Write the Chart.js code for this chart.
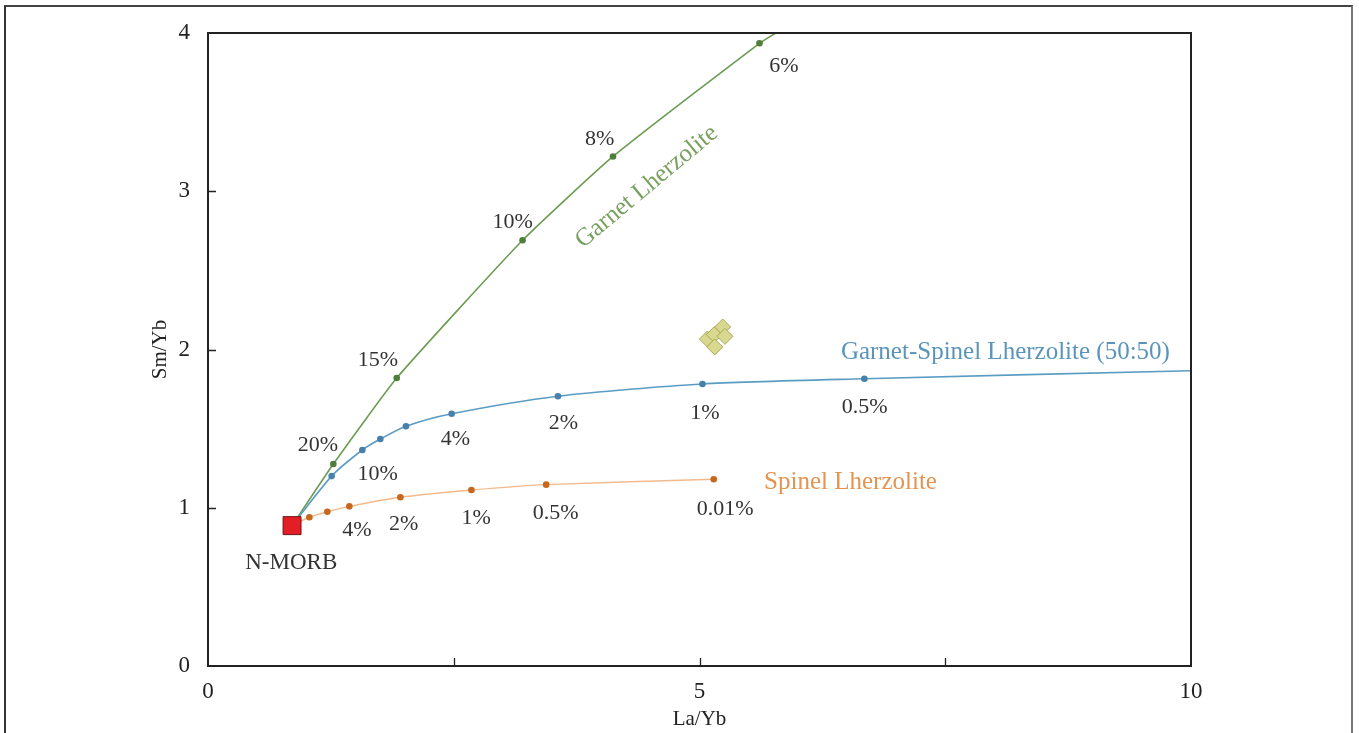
<!DOCTYPE html>
<html>
<head>
<meta charset="utf-8">
<script src="https://cdn.jsdelivr.net/npm/chart.js@4.4.1/dist/chart.umd.min.js"></script>
<style>
  html, body { margin: 0; padding: 0; background: #fff; overflow: hidden; }
  #wrap { position: relative; width: 1359px; height: 733px; }
  #frame { position: absolute; left: 4px; top: 5px; width: 1345px; height: 740px;
           border-left: 2px solid #333; border-top: 2px solid #444; border-right: 2px solid #777; }
  canvas { position: absolute; left: 0; top: 0; }
</style>
</head>
<body>
<div id="wrap">
  <div id="frame"></div>
  <canvas id="c" width="1359" height="733"></canvas>
</div>
<script>
// ---- data ----
const nmorbX = [0.855];
const nmorbY = [0.887];

// Garnet Lherzolite melting curve (starts at N-MORB, ends where it leaves the frame)
const garnetX = [0.855, 1.275, 1.92, 3.20, 4.12, 5.61, 5.775];
const garnetY = [0.887, 1.276, 1.82, 2.69, 3.22, 3.935, 4.0];
const garnetMarked = [false, true, true, true, true, true, false];

// Garnet-Spinel Lherzolite (50:50) melting curve
const gsX = [0.855, 1.258, 1.57, 1.753, 2.014, 2.479, 3.56, 5.03, 6.677, 10.0];
const gsY = [0.887, 1.200, 1.365, 1.434, 1.515, 1.594, 1.705, 1.782, 1.815, 1.866];
const gsMarked = [false, true, true, true, true, true, true, true, true, false];

// Spinel Lherzolite melting curve
const spX = [0.855, 1.031, 1.214, 1.438, 1.957, 2.68, 3.44, 5.145];
const spY = [0.887, 0.940, 0.975, 1.009, 1.066, 1.112, 1.146, 1.180];
const spMarked = [false, true, true, true, true, true, true, true];

// Sample points (diamonds)
const sampleX = [5.08, 5.15, 5.236, 5.259, 5.155];
const sampleY = [2.066, 2.094, 2.142, 2.083, 2.016];

// Axis ticks
const xTickValues = [0, 2.5, 5, 7.5, 10];
const xTickLabels = ['0', '', '5', '', '10'];
const yTickValues = [0, 1, 2, 3, 4];
const yTickLabels = ['0', '1', '2', '3', '4'];

// Melting-degree labels
const garnetLabels = ['20%', '15%', '10%', '8%', '6%'];
const gsLabels = ['10%', '4%', '2%', '1%', '0.5%'];
const spLabels = ['4%', '2%', '1%', '0.5%', '0.01%'];

// ---- build ----
const toPts = (xs, ys) => xs.map((x, i) => ({ x: x, y: ys[i] }));
const SERIF = '"Liberation Serif", "DejaVu Serif", serif';

// label anchor positions (data coords) — text placement only
const annotations = [
  { t: garnetLabels[0], x: 1.118, y: 1.394, c: '#333', s: 22 },
  { t: garnetLabels[1], x: 1.729, y: 1.934, c: '#333', s: 22 },
  { t: garnetLabels[2], x: 3.100, y: 2.802, c: '#333', s: 22 },
  { t: garnetLabels[3], x: 3.984, y: 3.327, c: '#333', s: 22 },
  { t: garnetLabels[4], x: 5.858, y: 3.790, c: '#333', s: 22 },
  { t: gsLabels[0], x: 1.725, y: 1.215, c: '#333', s: 22 },
  { t: gsLabels[1], x: 2.518, y: 1.436, c: '#333', s: 22 },
  { t: gsLabels[2], x: 3.616, y: 1.537, c: '#333', s: 22 },
  { t: gsLabels[3], x: 5.056, y: 1.600, c: '#333', s: 22 },
  { t: gsLabels[4], x: 6.680, y: 1.638, c: '#333', s: 22 },
  { t: spLabels[0], x: 1.516, y: 0.859, c: '#333', s: 22 },
  { t: spLabels[1], x: 1.990, y: 0.897, c: '#333', s: 22 },
  { t: spLabels[2], x: 2.729, y: 0.935, c: '#333', s: 22 },
  { t: spLabels[3], x: 3.538, y: 0.967, c: '#333', s: 22 },
  { t: spLabels[4], x: 5.262, y: 0.992, c: '#333', s: 22 },
  { t: 'N-MORB', x: 0.847, y: 0.652, c: '#333', s: 23 },
  { t: 'Garnet Lherzolite', x: 4.463, y: 3.028, c: '#7aa061', s: 25, rot: -39.8 },
  { t: 'Garnet-Spinel Lherzolite (50:50)', x: 8.112, y: 1.984, c: '#5a94bb', s: 25 },
  { t: 'Spinel Lherzolite', x: 6.536, y: 1.160, c: '#e29450', s: 25 }
];

const decorPlugin = {
  id: 'decor',
  afterDatasetsDraw(chart) {
    const { ctx, chartArea: a, scales: { x, y } } = chart;
    ctx.save();
    ctx.strokeStyle = '#222';
    ctx.lineWidth = 2;
    ctx.strokeRect(a.left, a.top, a.right - a.left, a.bottom - a.top);
    ctx.lineWidth = 1.3;
    ctx.beginPath();
    xTickValues.forEach(v => {
      if (v <= x.min || v >= x.max) return;
      const px = Math.round(x.getPixelForValue(v)) + 0.5;
      ctx.moveTo(px, a.bottom); ctx.lineTo(px, a.bottom - 8);
    });
    yTickValues.forEach(v => {
      if (v <= y.min || v >= y.max) return;
      const py = Math.round(y.getPixelForValue(v)) + 0.5;
      ctx.moveTo(a.left, py); ctx.lineTo(a.left + 8, py);
    });
    ctx.stroke();
    ctx.textAlign = 'center';
    ctx.textBaseline = 'middle';
    annotations.forEach(an => {
      const px = x.getPixelForValue(an.x);
      const py = y.getPixelForValue(an.y);
      ctx.save();
      ctx.font = an.s + 'px ' + SERIF;
      ctx.fillStyle = an.c;
      ctx.translate(px, py);
      if (an.rot) ctx.rotate(an.rot * Math.PI / 180);
      ctx.fillText(an.t, 0, 0);
      ctx.restore();
    });
    ctx.restore();
  }
};

const chart = new Chart(document.getElementById('c'), {
  type: 'scatter',
  data: {
    datasets: [
      {
        label: 'N-MORB',
        data: toPts(nmorbX, nmorbY),
        pointStyle: 'rect',
        pointRadius: 12.7,
        backgroundColor: '#e41e26',
        borderColor: '#6e1616',
        borderWidth: 1,
        order: 0
      },
      {
        label: 'Samples',
        data: toPts(sampleX, sampleY),
        pointStyle: 'rectRot',
        pointRadius: 8,
        backgroundColor: '#d8d88e',
        borderColor: '#a9a95e',
        borderWidth: 1,
        order: 1
      },
      {
        label: 'Garnet Lherzolite',
        data: toPts(garnetX, garnetY),
        showLine: true,
        borderColor: '#6c9b52',
        borderWidth: 1.6,
        tension: 0.15,
        pointRadius: garnetMarked.map(m => m ? 3.3 : 0),
        pointBackgroundColor: '#4f7d3c',
        pointBorderWidth: 0,
        clip: 0,
        order: 4
      },
      {
        label: 'Garnet-Spinel Lherzolite (50:50)',
        data: toPts(gsX, gsY),
        showLine: true,
        borderColor: '#5b9cc4',
        borderWidth: 1.6,
        tension: 0.25,
        pointRadius: gsMarked.map(m => m ? 3.3 : 0),
        pointBackgroundColor: '#4681ab',
        pointBorderWidth: 0,
        order: 3
      },
      {
        label: 'Spinel Lherzolite',
        data: toPts(spX, spY),
        showLine: true,
        borderColor: '#f3b98a',
        borderWidth: 1.4,
        tension: 0.25,
        pointRadius: spMarked.map(m => m ? 3.3 : 0),
        pointBackgroundColor: '#c6661f',
        pointBorderWidth: 0,
        order: 2
      }
    ]
  },
  options: {
    responsive: false,
    animation: false,
    devicePixelRatio: 1,
    layout: { padding: { top: 33, right: 168, left: 0, bottom: 0 } },
    plugins: { legend: { display: false }, tooltip: { enabled: false } },
    scales: {
      x: {
        type: 'linear',
        min: 0, max: 10,
        afterBuildTicks: s => { s.ticks = xTickValues.map(v => ({ value: v })); },
        afterFit: s => { s.height = 67; },
        grid: { display: false },
        border: { display: false },
        ticks: {
          padding: 4,
          color: '#222',
          font: { family: SERIF, size: 23 },
          callback: (v) => xTickLabels[xTickValues.indexOf(v)] ?? ''
        },
        title: {
          display: true, text: 'La/Yb', color: '#222',
          font: { family: SERIF, size: 21 },
          padding: { top: 0, bottom: 1 }
        }
      },
      y: {
        type: 'linear',
        min: 0, max: 4,
        afterBuildTicks: s => { s.ticks = yTickValues.map(v => ({ value: v })); },
        afterFit: s => { s.width = 208; },
        grid: { display: false },
        border: { display: false },
        ticks: {
          padding: 10,
          color: '#222',
          font: { family: SERIF, size: 23 },
          callback: (v) => yTickLabels[yTickValues.indexOf(v)] ?? ''
        },
        title: {
          display: true, text: 'Sm/Yb', color: '#222',
          font: { family: SERIF, size: 21 },
          padding: { top: 148, bottom: 0 }
        }
      }
    }
  },
  plugins: [decorPlugin]
});
</script>
</body>
</html>
